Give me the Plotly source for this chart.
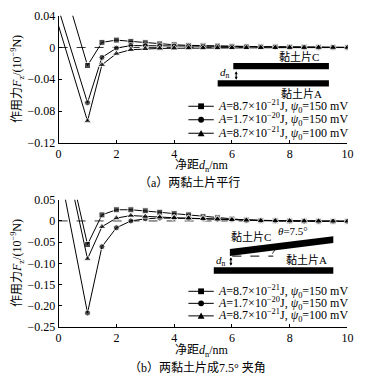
import plotly.graph_objects as go

W, H = 372, 386

# ---------------- data ----------------
dn = [0, 1, 1.5, 2, 2.5, 3, 3.5, 4, 4.5, 5, 5.5, 6, 6.5, 7, 7.5, 8, 8.5, 9, 9.5, 10]

a_sq = [0.100, -0.0227, 0.0064, 0.0093, 0.0077, 0.0060, 0.0045, 0.0034, 0.0027, 0.0022,
        0.0018, 0.0015, 0.0012, 0.0010, 0.0008, 0.0006, 0.0005, 0.0003, 0.0002, 0.0001]
a_ci = [0.048, -0.0695, -0.0125, -0.0008, 0.0024, 0.0022, 0.0020, 0.0017, 0.0015, 0.0013,
        0.0011, 0.0009, 0.0008, 0.0007, 0.0006, 0.0005, 0.0004, 0.0003, 0.0002, 0.0001]
a_tr = [0.027, -0.0925, -0.0218, -0.0077, -0.0028, -0.0016, -0.0012, -0.0010, -0.0008, -0.0007,
        -0.0006, -0.0005, -0.0004, -0.0003, -0.0003, -0.0002, -0.0002, -0.0001, -0.0001, -0.0001]

b_sq = [0.245, -0.0555, 0.0143, 0.0264, 0.0264, 0.0240, 0.0205, 0.0173, 0.0143, 0.0100,
        0.0075, 0.0045, 0.0020, 0.0008, 0.0003, 0.0, -0.0003, -0.0005, -0.0007, -0.0008]
b_tr = [0.226, -0.0895, -0.0136, 0.0068, 0.0127, 0.0105, 0.0090, 0.0075, 0.0065, 0.0052,
        0.0040, 0.0028, 0.0015, 0.0006, 0.0002, 0.0, -0.0003, -0.0005, -0.0007, -0.0008]
b_ci = [0.133, -0.217, -0.0607, -0.016, 0.0, 0.0050, 0.0068, 0.0068, 0.0060, 0.0050,
        0.0040, 0.0027, 0.0015, 0.0006, 0.0002, 0.0, -0.0003, -0.0005, -0.0007, -0.0008]

legend_labels = [
    "<i>A</i>=8.7×10<sup>−21</sup>J, <i>ψ</i><sub>0</sub>=150 mV",
    "<i>A</i>=1.7×10<sup>−20</sup>J, <i>ψ</i><sub>0</sub>=150 mV",
    "<i>A</i>=8.7×10<sup>−21</sup>J, <i>ψ</i><sub>0</sub>=100 mV",
]
symbols = ["square", "circle", "triangle-up"]

xt = [0, 2, 4, 6, 8, 10]
a_yt = [0.04, 0, -0.04, -0.08, -0.12]
a_ytxt = ["0.04", "0", "−0.04", "−0.08", "−0.12"]
b_yt = [0.05, 0, -0.05, -0.10, -0.15, -0.20, -0.25]
b_ytxt = ["0.05", "0", "−0.05", "−0.10", "−0.15", "−0.20", "−0.25"]

FONT = "Liberation Serif, Noto Sans CJK SC, serif"

def px(x):
    return x / W

def py(y):
    return 1 - y / H

fig = go.Figure()

def add_series(xs, ys, sym, xa, ya):
    sizes = [0] + [7 if sym == "triangle-up" else 6] * (len(xs) - 1)
    fig.add_trace(go.Scatter(
        x=xs, y=ys, mode="lines+markers", xaxis=xa, yaxis=ya,
        line=dict(color="black", width=1),
        marker=dict(symbol=sym, size=sizes, color="black"),
        showlegend=False, cliponaxis=True, hoverinfo="skip"))

for ys, s in zip([a_sq, a_ci, a_tr], symbols):
    add_series(dn, ys, s, "x", "y")
for ys, s in zip([b_sq, b_ci, b_tr], symbols):
    add_series(dn, ys, s, "x2", "y2")

xdom = [px(57), px(353)]
axis_common = dict(showline=True, linecolor="black", linewidth=1, ticks="inside",
                   ticklen=3, tickcolor="black", showgrid=False, zeroline=False,
                   tickfont=dict(family=FONT, size=12, color="black"))

fig.update_layout(
    width=W, height=H, margin=dict(l=0, r=0, t=0, b=0),
    paper_bgcolor="white", plot_bgcolor="white",
    xaxis=dict(domain=xdom, range=[0, 10], tickvals=xt, anchor="y", **axis_common),
    yaxis=dict(domain=[py(141), py(9)], range=[-0.12, 0.04], tickvals=a_yt,
               ticktext=a_ytxt, anchor="x", **axis_common),
    xaxis2=dict(domain=xdom, range=[0, 10], tickvals=xt, anchor="y2", **axis_common),
    yaxis2=dict(domain=[py(332), py(200)], range=[-0.25, 0.05], tickvals=b_yt,
                ticktext=b_ytxt, anchor="x2", **axis_common),
)

shapes = []
ann = []

# zero dashed lines
for xr, yr in [("x", "y"), ("x2", "y2")]:
    shapes.append(dict(type="line", xref=xr, yref=yr, x0=0, x1=10, y0=0, y1=0,
                       line=dict(color="#333", width=1, dash="dash"), layer="below"))

# legends (manual, compact)
def legend(rows):
    for r, (lab, sym) in enumerate(zip(legend_labels, symbols)):
        y = rows[r]
        shapes.append(dict(type="line", xref="paper", yref="paper",
                           x0=px(190), x1=px(216), y0=py(y), y1=py(y),
                           line=dict(color="black", width=1)))
        if sym == "square":
            shapes.append(dict(type="rect", xref="paper", yref="paper",
                               x0=px(200), x1=px(206), y0=py(y - 3), y1=py(y + 3),
                               fillcolor="black", line=dict(width=0)))
        elif sym == "circle":
            shapes.append(dict(type="circle", xref="paper", yref="paper",
                               x0=px(200), x1=px(206), y0=py(y - 3), y1=py(y + 3),
                               fillcolor="black", line=dict(width=0)))
        else:
            path = "M %f %f L %f %f L %f %f Z" % (px(199.5), py(y + 3), px(206.5), py(y + 3),
                                                  px(203), py(y - 3.5))
            shapes.append(dict(type="path", xref="paper", yref="paper", path=path,
                               fillcolor="black", line=dict(width=0)))
        ann.append(dict(x=px(218), y=py(y), xref="paper", yref="paper", text=lab,
                        showarrow=False, xanchor="left", yanchor="middle",
                        font=dict(family=FONT, size=12, color="black")))

legend([103, 117, 131])
legend([295, 307.5, 320.5])

def rect(x0, y0, x1, y1):
    shapes.append(dict(type="rect", xref="paper", yref="paper", x0=px(x0), x1=px(x1),
                       y0=py(y1), y1=py(y0), fillcolor="black", line=dict(width=0)))

def label(x, y, t, size=11, xanchor="center"):
    ann.append(dict(x=px(x), y=py(y), xref="paper", yref="paper", text=t, showarrow=False,
                    xanchor=xanchor, yanchor="middle",
                    font=dict(family=FONT, size=size, color="black")))

# inset (a): parallel platelets
rect(236, 58, 334, 64.5)
rect(220, 76, 334, 82.5)
label(303, 51.5, "黏土片C")
label(306, 89.5, "黏土片A")
label(228, 68.5, "<i>d</i><sub>n</sub>")
ann.append(dict(x=px(239), y=py(75.5), xref="paper", yref="paper", ax=0, ay=-10,
                text="", showarrow=True, arrowhead=2, arrowsize=0.6, arrowwidth=1,
                arrowside="end+start", arrowcolor="black"))

# inset (b): tilted platelet
path = "M %f %f L %f %f L %f %f L %f %f Z" % (px(232.5), py(251), px(338.5), py(238),
                                             px(338.5), py(245), px(232.5), py(258.3))
shapes.append(dict(type="path", xref="paper", yref="paper", path=path,
                   fillcolor="black", line=dict(width=0)))
rect(216, 270, 338.5, 276.7)
shapes.append(dict(type="line", xref="paper", yref="paper", x0=px(235), x1=px(277),
                   y0=py(258.5), y1=py(258.5), line=dict(color="black", width=1, dash="dash")))
shapes.append(dict(type="line", xref="paper", yref="paper", x0=px(282), x1=px(276),
                   y0=py(247), y1=py(256), line=dict(color="black", width=0.8)))
label(254, 238.3, "黏土片C")
label(297, 232, "<i>θ</i>=7.5°")
label(311.5, 262.5, "黏土片A")
label(223.5, 264, "<i>d</i><sub>n</sub>")
ann.append(dict(x=px(233.5), y=py(268.5), xref="paper", yref="paper", ax=0, ay=-10,
                text="", showarrow=True, arrowhead=2, arrowsize=0.6, arrowwidth=1,
                arrowside="end+start", arrowcolor="black"))

# axis titles & captions
ytitle = "作用力<i>F</i><sub>z</sub>/(10<sup>−9</sup>N)"
for yc in [75, 266]:
    ann.append(dict(x=px(15), y=py(yc), xref="paper", yref="paper", text=ytitle,
                    textangle=-90, showarrow=False, xanchor="center", yanchor="middle",
                    font=dict(family=FONT, size=12, color="black")))
xtitle = "净距<i>d</i><sub>n</sub>/nm"
label(204, 165, xtitle, size=12)
label(204, 357, xtitle, size=12)
label(191, 183, "（a）两黏土片平行", size=12)
label(199, 375, "（b）两黏土片成7.5° 夹角", size=12)

fig.update_layout(shapes=shapes, annotations=ann, hovermode=False)
fig.write_html("out.html", config={"displayModeBar": False, "staticPlot": True},
               post_script="document.body.style.margin='0';document.body.style.padding='0';")
